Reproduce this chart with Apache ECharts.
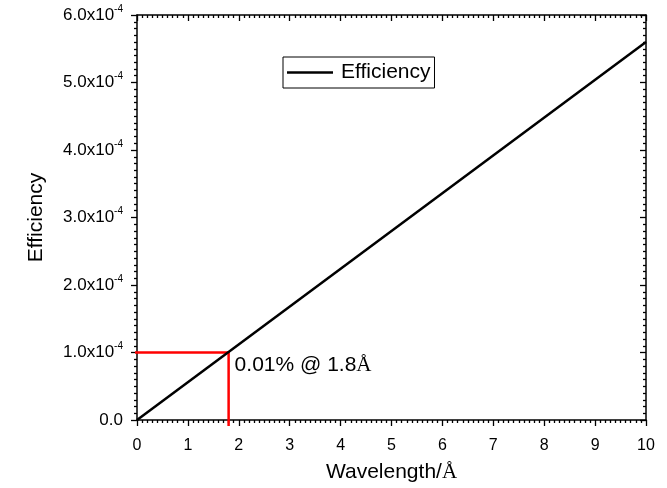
<!DOCTYPE html>
<html>
<head>
<meta charset="utf-8">
<script src="https://cdn.jsdelivr.net/npm/echarts@6/dist/echarts.min.js"></script>
<style>html,body{margin:0;padding:0;background:#fff}#c{width:667px;height:488px}</style>
</head>
<body>
<div id="c"></div>
<script>
// Data
var wavelength = [0, 10];
var efficiency = [0, 5.6e-4];
var markerX = 1.8;
var markerY = 1.0e-4;
var markerXStart = -0.18;      // red guide starts a little left of the axis
var markerYEnd = -0.09e-4;     // red guide ends a little below the axis
var annotation = '0.01% @ 1.8';

var chart = echarts.init(document.getElementById('c'), null, {renderer: 'canvas'});
var FONT = '"Liberation Sans", Arial, sans-serif';
var SERIF = '"Liberation Serif", "DejaVu Serif", serif';

function yLabel(v) {
  if (Math.abs(v) < 1e-12) return '{m|0.0}';
  var m = (v / 1e-4).toFixed(1);
  return '{m|' + m + 'x10}{s|-4}';
}

var effData = wavelength.map(function (x, i) { return [x, efficiency[i]]; });
var guide = [[markerXStart, markerY], [markerX, markerY], [markerX, markerYEnd]];

var tickStyle = {color: '#000', width: 1.3};
chart.setOption({
  animation: false,
  backgroundColor: '#fff',
  grid: {left: 137, right: 21, top: 15, bottom: 64, containLabel: false},
  legend: {
    data: [{name: 'Efficiency', icon: 'rect'}],
    left: 283, top: 57,
    orient: 'vertical',
    borderColor: '#000', borderWidth: 1, borderRadius: 0,
    padding: [5, 4, 5, 4],
    itemWidth: 46, itemHeight: 2.5, itemGap: 0,
    itemStyle: {color: '#000'},
    textStyle: {fontFamily: FONT, fontSize: 21, color: '#000', padding: [0, 0, 0, 3]},
    selectedMode: false
  },
  xAxis: [{
    type: 'value', min: 0, max: 10, interval: 1, position: 'bottom',
    name: 'Wavelength/{a|Å}', nameLocation: 'middle', nameGap: 42,
    nameTextStyle: {fontFamily: FONT, fontSize: 21, color: '#000',
      rich: {a: {fontFamily: SERIF, fontSize: 21, color: '#000'}}},
    axisLine: {show: true, onZero: false, lineStyle: {color: '#000', width: 1.5}},
    axisTick: {show: true, inside: false, length: 6, lineStyle: tickStyle},
    minorTick: {show: true, splitNumber: 10, length: 3, lineStyle: tickStyle},
    axisLabel: {fontFamily: FONT, fontSize: 16, color: '#000', margin: 18},
    splitLine: {show: false}
  }, {
    type: 'value', min: 0, max: 10, interval: 1, position: 'top',
    axisLine: {show: true, onZero: false, lineStyle: {color: '#000', width: 1.5}},
    axisTick: {show: true, inside: true, length: 6, lineStyle: tickStyle},
    minorTick: {show: true, splitNumber: 10, length: 3, lineStyle: tickStyle},
    axisLabel: {show: false},
    splitLine: {show: false}
  }],
  yAxis: [{
    type: 'value', min: 0, max: 6e-4, interval: 1e-4, position: 'left',
    name: 'Efficiency', nameLocation: 'middle', nameGap: 90,
    nameTextStyle: {fontFamily: FONT, fontSize: 21, color: '#000'},
    axisLine: {show: true, onZero: false, lineStyle: {color: '#000', width: 1.5}},
    axisTick: {show: true, inside: false, length: 6, lineStyle: tickStyle},
    minorTick: {show: true, splitNumber: 10, length: 3, lineStyle: tickStyle},
    axisLabel: {
      fontFamily: FONT, fontSize: 17, color: '#000', margin: 14,
      formatter: yLabel,
      rich: {
        m: {fontFamily: FONT, fontSize: 17, color: '#000'},
        s: {fontFamily: FONT, fontSize: 10, color: '#000', padding: [0, 0, 12, 0]}
      }
    },
    splitLine: {show: false}
  }, {
    type: 'value', min: 0, max: 6e-4, interval: 1e-4, position: 'right',
    axisLine: {show: true, onZero: false, lineStyle: {color: '#000', width: 1.5}},
    axisTick: {show: true, inside: true, length: 6, lineStyle: tickStyle},
    minorTick: {show: true, splitNumber: 10, length: 3, lineStyle: tickStyle},
    axisLabel: {show: false},
    splitLine: {show: false}
  }],
  series: [{
    name: 'guide', type: 'line', data: guide, symbol: 'none', clip: false,
    lineStyle: {color: '#ff0000', width: 2.5}, z: 3, silent: true
  }, {
    name: 'Efficiency', type: 'line', data: effData, symbol: 'none',
    lineStyle: {color: '#000', width: 2.5}, itemStyle: {color: '#000'}, z: 4
  }, {
    name: 'note', type: 'scatter', data: [[markerX, markerY]], symbolSize: 0,
    itemStyle: {opacity: 1, color: '#000'},
    label: {
      show: true, position: 'right', distance: 0, offset: [6, 13],
      formatter: annotation + '{a|Å}',
      fontFamily: FONT, fontSize: 21, color: '#000', opacity: 1,
      rich: {a: {fontFamily: SERIF, fontSize: 21, color: '#000'}}
    },
    z: 5, silent: true
  }]
});
</script>
</body>
</html>
